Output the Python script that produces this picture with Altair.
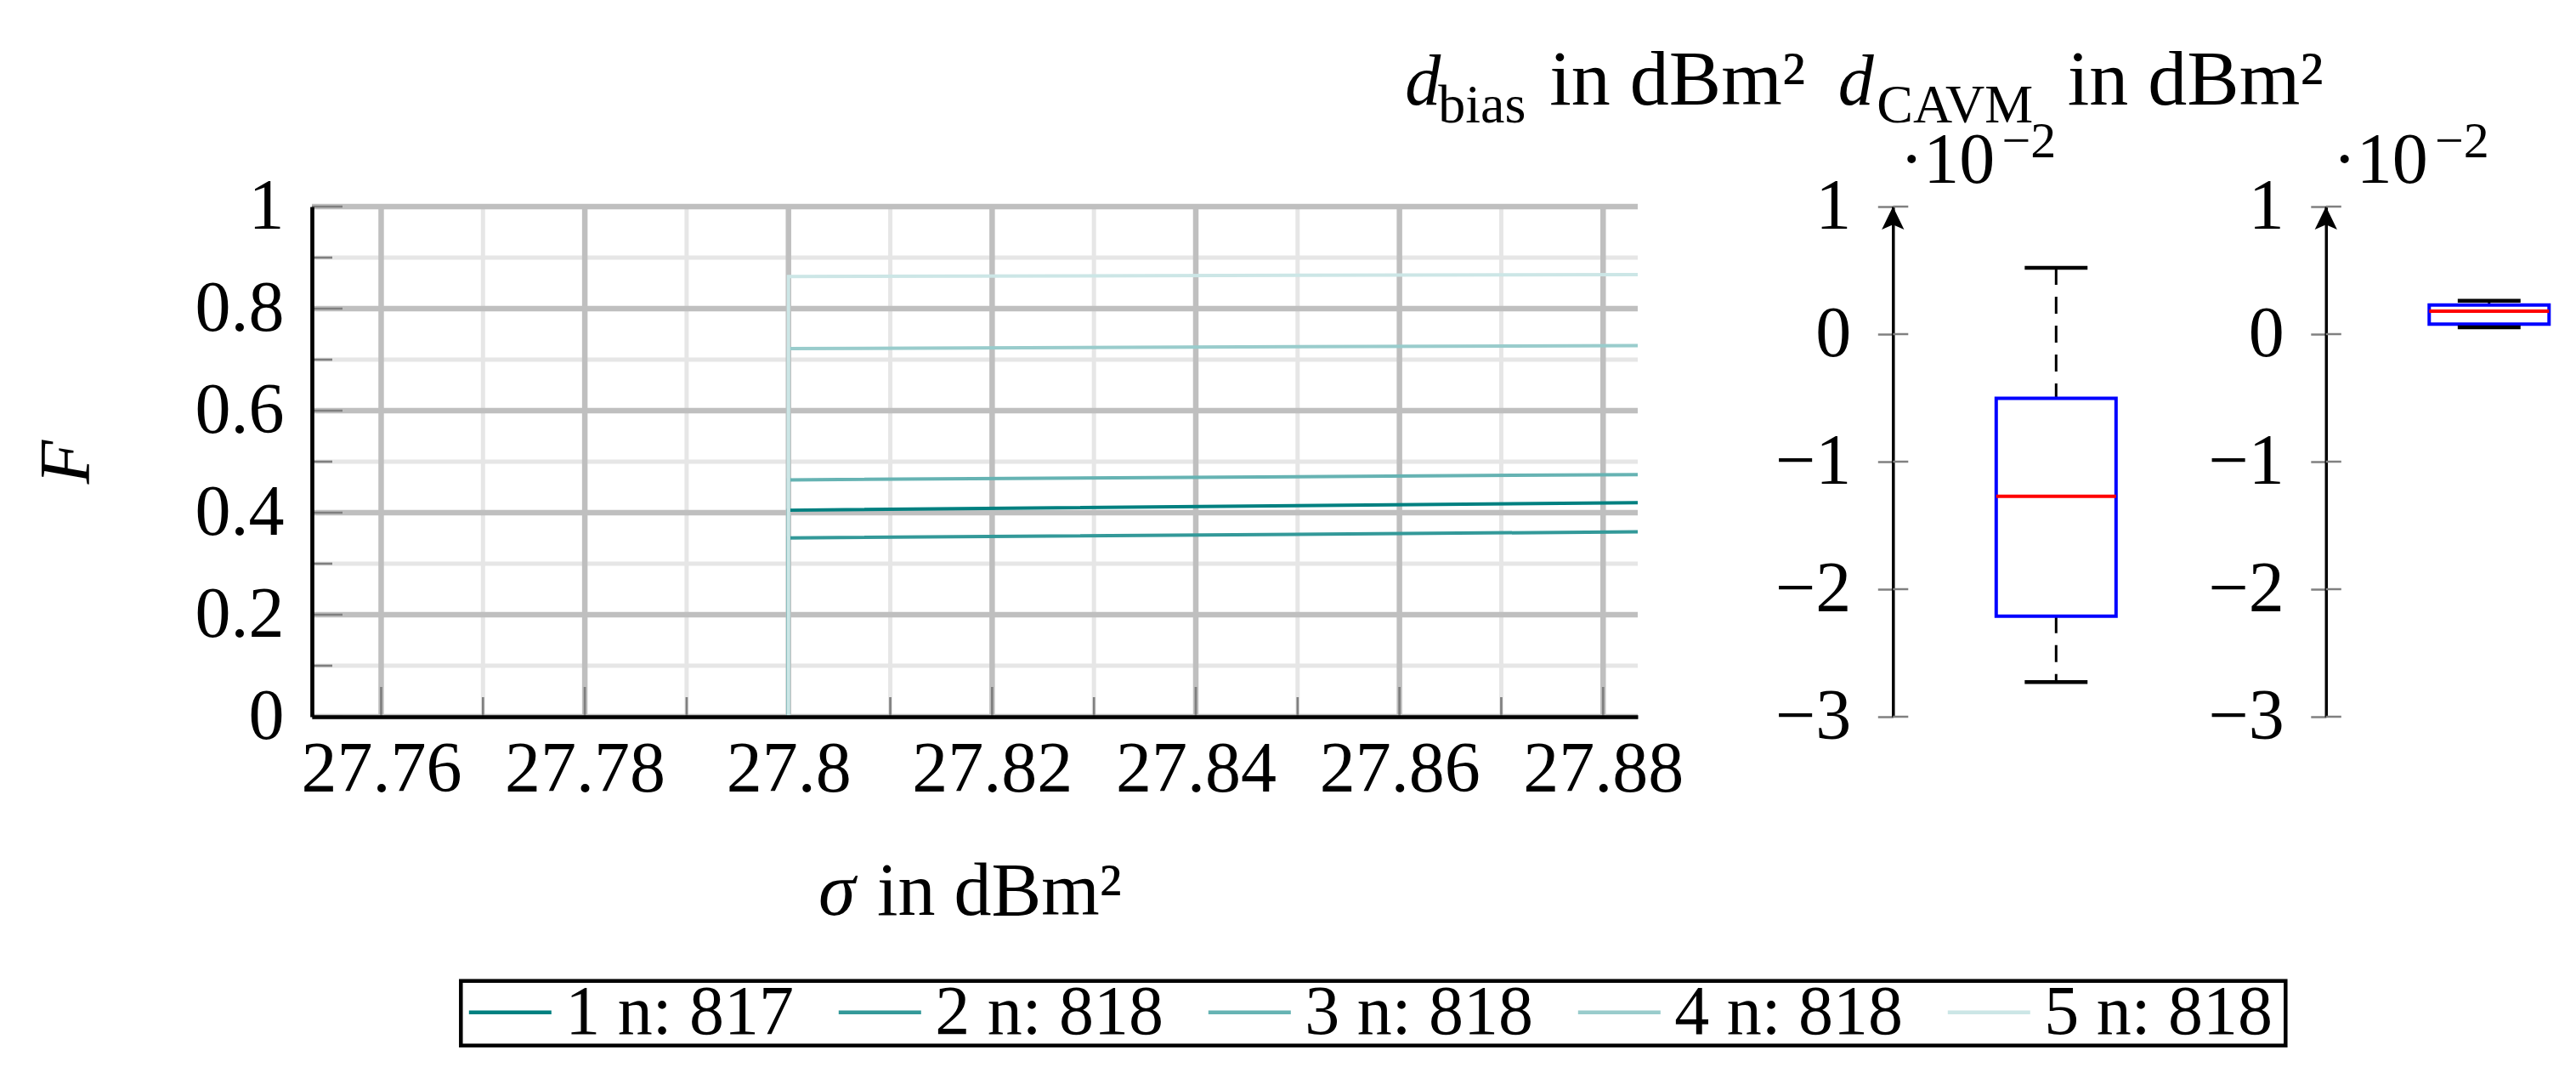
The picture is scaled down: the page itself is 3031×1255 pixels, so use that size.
import altair as alt
import pandas as pd

# ---------------- data ----------------
series = ["1 n: 817", "2 n: 818", "3 n: 818", "4 n: 818", "5 n: 818"]
colors = ["#008080", "#339999", "#66b3b3", "#99cccc", "#cce6e6"]
sigma_start = [27.80, 27.80, 27.80, 27.80, 27.80]
sigma_end = [27.8834, 27.8834, 27.8834, 27.8834, 27.8834]
F_start = [0.4048, 0.3504, 0.4643, 0.7217, 0.8630]
F_end = [0.4196, 0.3624, 0.4747, 0.7277, 0.8668]

x_major = [27.76, 27.78, 27.80, 27.82, 27.84, 27.86, 27.88]
x_minor = [27.77, 27.79, 27.81, 27.83, 27.85, 27.87]
y_major = [0, 0.2, 0.4, 0.6, 0.8, 1.0]
y_minor = [0.1, 0.3, 0.5, 0.7, 0.9]

box_names = ["bias", "CAVM"]
whisk_lo = [-2.728, 0.054]
q1 = [-2.211, 0.078]
median = [-1.272, 0.180]
q3 = [-0.503, 0.228]
whisk_hi = [0.520, 0.262]
box_ticks = [-3, -2, -1, 0, 1]

FONT = "Liberation Serif"
W, H = 1560, 600
BW = 280

rows = []
for i, s in enumerate(series):
    rows.append({"s": s, "sigma": sigma_start[i], "F": 0.0, "o": 0})
    rows.append({"s": s, "sigma": sigma_start[i], "F": F_start[i], "o": 1})
    rows.append({"s": s, "sigma": sigma_end[i], "F": F_end[i], "o": 2})
lines_df = pd.DataFrame(rows)

xs = alt.Scale(domain=[27.7532, 27.8834], nice=False, zero=False)
ys = alt.Scale(domain=[0, 1], nice=False, zero=False)

ax_x = alt.Axis(values=x_major, format="~g", title=None, labelFontSize=84, labelPadding=21,
                tickSize=0, domainColor="black", domainWidth=4.7, grid=False, labelLimit=400,
                zindex=1, labelFlush=False, labelOverlap=False, labelColor="black")
ax_y = alt.Axis(values=y_major, format="~g", title="F", titleFontStyle="italic", titleAngle=270,
                titleX=-263, titleY=300, titleBaseline="alphabetic", titleAlign="center",
                titleFontSize=84, titleFontWeight="normal", titleColor="black",
                labelFontSize=84, labelPadding=33, tickSize=0, domainColor="black",
                domainWidth=4.7, grid=False, labelLimit=400, zindex=1, labelFlush=False,
                labelOverlap=False, labelColor="black")

legend = alt.Legend(title=None, orient="none", legendX=182.3, legendY=914.7,
                    direction="horizontal", symbolType="stroke", symbolSize=9409,
                    symbolStrokeWidth=4.5, labelFontSize=82, labelOffset=14,
                    columnPadding=50, padding=0, clipHeight=66, labelLimit=600,
                    labelColor="black", labelFont=FONT)

one = alt.Chart(pd.DataFrame({"k": [0]}))


def txt(t, dx, dy, size=84, style="normal", align="left"):
    return one.mark_text(text=t, font=FONT, fontSize=size, fontStyle=style,
                         align=align, baseline="alphabetic", color="black").encode(
        x=alt.value(dx), y=alt.value(dy))


grid_minor_x = alt.Chart(pd.DataFrame({"v": x_minor})).mark_rule(
    color="#e6e6e6", strokeWidth=5).encode(x=alt.X("v:Q", scale=xs, axis=ax_x))
grid_minor_y = alt.Chart(pd.DataFrame({"v": y_minor})).mark_rule(
    color="#e6e6e6", strokeWidth=5).encode(y=alt.Y("v:Q", scale=ys, axis=ax_y))
grid_major_x = alt.Chart(pd.DataFrame({"v": x_major})).mark_rule(
    color="#bfbfbf", strokeWidth=6.5).encode(x=alt.X("v:Q", scale=xs, axis=ax_x))
grid_major_y = alt.Chart(pd.DataFrame({"v": y_major})).mark_rule(
    color="#bfbfbf", strokeWidth=6.5).encode(y=alt.Y("v:Q", scale=ys, axis=ax_y))
tick_major_x = alt.Chart(pd.DataFrame({"v": x_major})).mark_rule(
    color="#7f7f7f", strokeWidth=2.7).encode(
    x=alt.X("v:Q", scale=xs, axis=ax_x), y=alt.value(H), y2=alt.value(H - 35))
tick_minor_x = alt.Chart(pd.DataFrame({"v": x_minor})).mark_rule(
    color="#7f7f7f", strokeWidth=2.7).encode(
    x=alt.X("v:Q", scale=xs, axis=ax_x), y=alt.value(H), y2=alt.value(H - 23))
tick_major_y = alt.Chart(pd.DataFrame({"v": y_major})).mark_rule(
    color="#7f7f7f", strokeWidth=2.7).encode(
    y=alt.Y("v:Q", scale=ys, axis=ax_y), x=alt.value(0), x2=alt.value(36))
tick_minor_y = alt.Chart(pd.DataFrame({"v": y_minor})).mark_rule(
    color="#7f7f7f", strokeWidth=2.7).encode(
    y=alt.Y("v:Q", scale=ys, axis=ax_y), x=alt.value(0), x2=alt.value(24))
lines = alt.Chart(lines_df).mark_line(strokeWidth=4, clip=True).encode(
    x=alt.X("sigma:Q", scale=xs, axis=ax_x),
    y=alt.Y("F:Q", scale=ys, axis=ax_y),
    color=alt.Color("s:N", scale=alt.Scale(domain=series, range=colors), legend=legend),
    order=alt.Order("o:Q"),
)
legend_box = one.mark_rect(fillOpacity=0, stroke="black", strokeWidth=4.5).encode(
    x=alt.value(175.3), x2=alt.value(2322.3), y=alt.value(910.7), y2=alt.value(986.7))
x_title = [txt("σ", 596, H + 233, size=88, style="italic"),
           txt("in dBm²", 665, H + 233, size=88)]

main = alt.layer(grid_minor_x, grid_minor_y, grid_major_x, grid_major_y,
                 tick_major_x, tick_minor_x, tick_major_y, tick_minor_y, lines,
                 legend_box, *x_title).properties(width=W, height=H)


def panel(i, sub, sub_dx, in_dx):
    df = pd.DataFrame({"lo": [whisk_lo[i]], "q1": [q1[i]], "med": [median[i]],
                       "q3": [q3[i]], "hi": [whisk_hi[i]], "name": [box_names[i]]})
    bxs = alt.Scale(domain=[0, 1], nice=False, zero=False)
    bys = alt.Scale(domain=[-3, 1], nice=False, zero=False)
    ax_b = alt.Axis(values=box_ticks, format="~g", title=None, labelFontSize=84,
                    labelPadding=31.5, tickSize=18, tickColor="#808080", tickWidth=2.5,
                    domainColor="black", domainWidth=3.5, grid=False, labelColor="black",
                    labelLimit=400, labelFlush=False, labelOverlap=False)
    base = alt.Chart(df).transform_calculate(
        c="0.6857", bl="0.6857 - 0.2518", br="0.6857 + 0.2518",
        cl="0.6857 - 0.132", cr="0.6857 + 0.132", top="1")
    X = lambda f: alt.X(f, type="quantitative", scale=bxs, axis=None)
    Y = lambda f: alt.Y(f, type="quantitative", scale=bys, axis=ax_b)
    w_up = base.mark_rule(color="black", strokeWidth=3, strokeDash=[20, 14]).encode(
        x=X("c"), y=Y("hi"), y2="q3:Q")
    w_lo = base.mark_rule(color="black", strokeWidth=3, strokeDash=[20, 14]).encode(
        x=X("c"), y=Y("q1"), y2="lo:Q")
    box = base.mark_rect(fill="white", stroke="#0000ff", strokeWidth=4).encode(
        x=X("bl"), x2="br:Q", y=Y("q1"), y2="q3:Q")
    med = base.mark_rule(color="#ff0000", strokeWidth=4).encode(
        x=X("bl"), x2="br:Q", y=Y("med"))
    cap_hi = base.mark_rule(color="black", strokeWidth=4.5).encode(
        x=X("cl"), x2="cr:Q", y=Y("hi"))
    cap_lo = base.mark_rule(color="black", strokeWidth=4.5).encode(
        x=X("cl"), x2="cr:Q", y=Y("lo"))
    inner = alt.Chart(pd.DataFrame({"v": box_ticks})).mark_rule(
        color="#808080", strokeWidth=2.5).encode(
        y=alt.Y("v:Q", scale=bys, axis=ax_b), x=alt.value(0), x2=alt.value(18))
    arrow = base.mark_point(shape="M0,-1 L0.9,0.85 L0,0.45 L-0.9,0.85 Z", filled=True,
                            color="black", opacity=1, size=853, yOffset=14.6,
                            strokeWidth=0).encode(x=alt.value(0), y=Y("top"))
    texts = [
        txt("d", -574, -119.6, style="italic"),
        txt(sub, sub_dx, -99, size=64),
        txt("in dBm²", in_dx, -119.6, size=92),
        txt("·10", 8, -28.3),
        txt("−2", 192, -58, size=60, align="right"),
    ]
    return alt.layer(w_up, w_lo, box, med, cap_hi, cap_lo, inner, arrow, *texts
                     ).properties(width=BW, height=H)


p1 = panel(0, "bias", -535, -404)
p2 = panel(1, "CAVM", -528.5, -304)

chart = alt.hconcat(main, alt.hconcat(p1, p2, spacing=229.5, bounds="flush"),
                    spacing=300.3, bounds="flush").configure(
    font=FONT).configure_view(strokeWidth=0).properties(
    padding={"left": 29, "top": 41, "right": 5, "bottom": 5})

chart.save("out.html", embed_options={"renderer": "svg", "actions": False})
